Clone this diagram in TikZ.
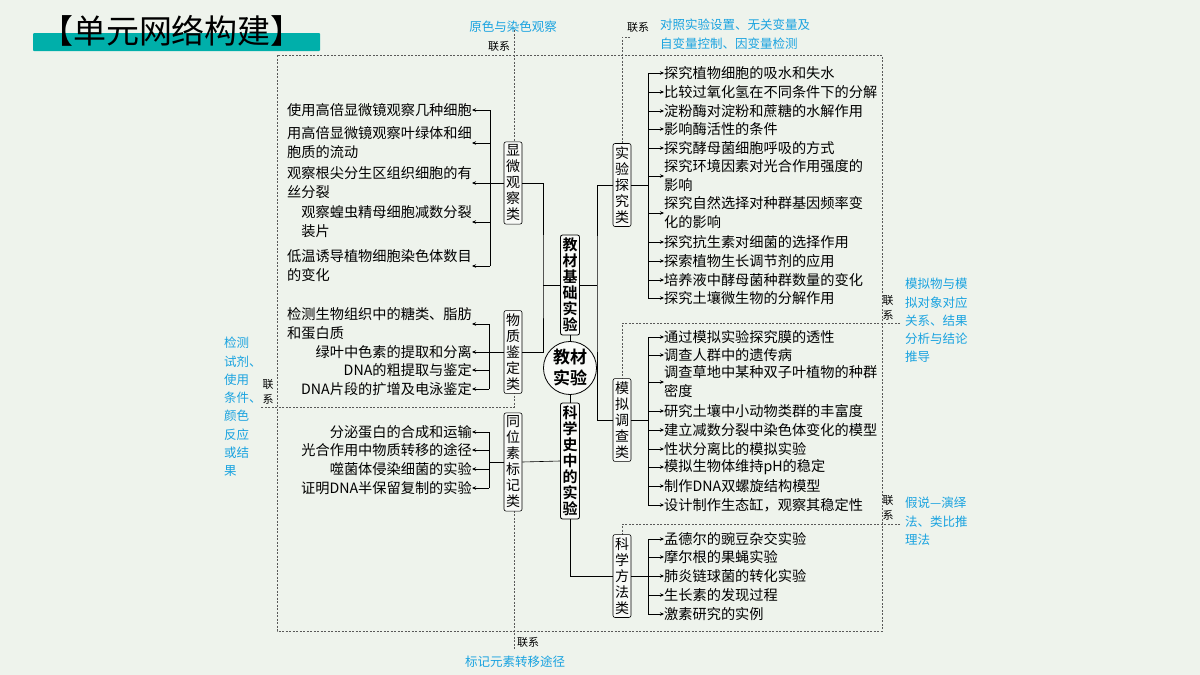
\documentclass[tikz,border=0pt]{standalone}
\usepackage{fontspec}
\setmainfont{Noto Sans CJK SC}[BoldFont={Noto Sans CJK SC Bold}]
\usetikzlibrary{arrows.meta}
\definecolor{bg}{HTML}{EEF3EC}
\definecolor{teal}{HTML}{00AFAA}
\definecolor{blu}{HTML}{1AA3E0}
\tikzset{
 leaf/.style={inner sep=0pt,font=\fontsize{14.2}{19}\selectfont,align=left},
 cat/.style={draw,rounded corners=2pt,fill=white!60!bg,inner xsep=2pt,inner ysep=3pt,align=center,font=\fontsize{14}{16}\selectfont,line width=0.6pt},
 mainbox/.style={cat,font=\bfseries\fontsize{15}{16}\selectfont,line width=0.8pt},
 arr/.style={-{Stealth[length=4pt,width=3.5pt]},line width=0.6pt},
 ln/.style={line width=0.6pt},
 dsh/.style={dash pattern=on 2pt off 1.5pt,line width=0.6pt,black!65},
 note/.style={text=blu,font=\fontsize{12.5}{18.3}\selectfont,inner sep=0pt,align=left},
 lx/.style={font=\fontsize{11}{15}\selectfont,inner sep=0pt,align=center},
}
\begin{document}
\begin{tikzpicture}[x=1pt,y=-1pt]
\path[fill=bg] (0,0) rectangle (1200,675);
% title
\fill[teal,rounded corners=1pt] (33,33) rectangle (320,51);
\node[inner sep=0pt,font=\fontsize{33}{33}\selectfont] (title) at (172,31) {【单元网络构建】};
% dashed frames
\draw[dsh] (277,55) rectangle (882,631);
\draw[dsh] (514,30) -- (514,143);
\draw[dsh] (630,37) -- (622,37) -- (622,145);
\draw[dsh] (900,323) -- (622,323) -- (622,380);
\draw[dsh] (900,524) -- (622,524) -- (622,537);
\draw[dsh] (514,392) -- (514,407) -- (260,407);
\draw[dsh] (514,507) -- (514,650);
% center
\node[mainbox] (jb) at (570,285) {教\\材\\基\\础\\实\\验};
\node[draw,circle,line width=0.8pt,fill=white!60!bg,inner sep=1pt,minimum size=46pt,align=center,font=\bfseries\fontsize{17}{21}\selectfont] (core) at (570,368) {教材\\实验};
\node[mainbox] (ks) at (570,461) {科\\学\\史\\中\\的\\实\\验};
\draw[ln] (jb.south) -- (core.north);
\draw[ln] (core.south) -- (ks.north);
% categories
\node[cat] (xw) at (513,183) {显\\微\\观\\察\\类};
\node[cat] (wz) at (513,352) {物\\质\\鉴\\定\\类};
\node[cat] (tw) at (513,462) {同\\位\\素\\标\\记\\类};
\node[cat] (sy) at (622,185) {实\\验\\探\\究\\类};
\node[cat] (mn) at (622,420) {模\\拟\\调\\查\\类};
\node[cat] (kf) at (622,576) {科\\学\\方\\法\\类};
\coordinate (jl) at (543,285);
\coordinate (jr) at (597,285);
\draw[ln] (jb.west) -- (jl);
\draw[ln] (xw.east) -| (jl) |- (wz.east);
\draw[ln] (jb.east) -- (jr);
\draw[ln] (sy.west) -| (jr) |- (mn.west);
\draw[ln] (ks.west) -- (tw.east);
\draw[ln] (ks.south) |- (kf.west);
% left leaves: xw
\foreach \n/\y/\t in {a/110/{使用高倍显微镜观察几种细胞},b/143/{用高倍显微镜观察叶绿体和细\\胞质的流动},c/183/{观察根尖分生区组织细胞的有\\丝分裂},d/222/{观察蝗虫精母细胞减数分裂\\装片},e/266/{低温诱导植物细胞染色体数目\\的变化}}{
 \node[leaf,anchor=east] (xw\n) at (472,\y) {\t};
 \coordinate (bxw\n) at (490,\y);
 \draw[arr] (bxw\n) -- (xw\n.east);
}
\draw[ln] (bxwa) -- (bxwe);
\draw[ln] (xw.west) -- (490,183);
% wz
\foreach \n/\y/\t in {a/324/{检测生物组织中的糖类、脂肪\\和蛋白质},b/352/{绿叶中色素的提取和分离},c/370/{DNA的粗提取与鉴定},d/389/{DNA片段的扩增及电泳鉴定}}{
 \node[leaf,anchor=east] (wz\n) at (472,\y) {\t};
 \coordinate (bwz\n) at (489,\y);
 \draw[arr] (bwz\n) -- (wz\n.east);
}
\draw[ln] (bwza) -- (bwzd);
\draw[ln] (wz.west) -- (bwzb);
% tw
\foreach \n/\y/\t in {a/432/{分泌蛋白的合成和运输},b/450/{光合作用中物质转移的途径},c/469/{噬菌体侵染细菌的实验},d/488/{证明DNA半保留复制的实验}}{
 \node[leaf,anchor=east] (tw\n) at (472,\y) {\t};
 \coordinate (btw\n) at (489,\y);
 \draw[arr] (btw\n) -- (tw\n.east);
}
\draw[ln] (btwa) -- (btwd);
\draw[ln] (tw.west) -- (489,462);
% right leaves: sy
\foreach \n/\y/\t in {a/73/{探究植物细胞的吸水和失水},b/92/{比较过氧化氢在不同条件下的分解},c/111/{淀粉酶对淀粉和蔗糖的水解作用},d/129/{影响酶活性的条件},e/148/{探究酵母菌细胞呼吸的方式},f/176/{探究环境因素对光合作用强度的\\影响},g/213/{探究自然选择对种群基因频率变\\化的影响},h/242/{探究抗生素对细菌的选择作用},i/261/{探索植物生长调节剂的应用},j/280/{培养液中酵母菌种群数量的变化},k/298/{探究土壤微生物的分解作用}}{
 \node[leaf,anchor=west] (sy\n) at (664,\y) {\t};
 \coordinate (bsy\n) at (648,\y);
 \draw[arr] (bsy\n) -- (sy\n.west);
}
\draw[ln] (bsya) -- (bsyk);
\draw[ln] (sy.east) -- (648,185);
% mn
\foreach \n/\y/\t in {a/337/{通过模拟实验探究膜的透性},b/355/{调查人群中的遗传病},c/382/{调查草地中某种双子叶植物的种群\\密度},d/411/{研究土壤中小动物类群的丰富度},e/430/{建立减数分裂中染色体变化的模型},f/449/{性状分离比的模拟实验},g/467/{模拟生物体维持pH的稳定},h/486/{制作DNA双螺旋结构模型},i/505/{设计制作生态缸，观察其稳定性}}{
 \node[leaf,anchor=west] (mn\n) at (664,\y) {\t};
 \coordinate (bmn\n) at (648,\y);
 \draw[arr] (bmn\n) -- (mn\n.west);
}
\draw[ln] (bmna) -- (bmni);
\draw[ln] (mn.east) -- (648,420);
% kf
\foreach \n/\y/\t in {a/539/{孟德尔的豌豆杂交实验},b/557/{摩尔根的果蝇实验},c/576/{肺炎链球菌的转化实验},d/595/{生长素的发现过程},e/614/{激素研究的实例}}{
 \node[leaf,anchor=west] (kf\n) at (664,\y) {\t};
 \coordinate (bkf\n) at (648,\y);
 \draw[arr] (bkf\n) -- (kf\n.west);
}
\draw[ln] (bkfa) -- (bkfe);
\draw[ln] (kf.east) -- (bkfc);
% notes
\node[note,anchor=center] (n1) at (513,27) {原色与染色观察};
\node[lx] (l1) at (499,46) {联系};
\node[lx] (l2) at (638,27) {联系};
\node[note,anchor=north west] (n2) at (660,19) {对照实验设置、无关变量及\\自变量控制、因变量检测};
\node[lx] (l3) at (888,308) {联\\系};
\node[note,anchor=north west] (n3) at (905,278) {模拟物与模\\拟对象对应\\关系、结果\\分析与结论\\推导};
\node[lx] (l4) at (888,508) {联\\系};
\node[note,anchor=north west] (n4) at (905,497) {假说—演绎\\法、类比推\\理法};
\node[lx] (l5) at (268,392) {联\\系};
\node[note,anchor=north west] (n5) at (224,337) {检测\\试剂、\\使用\\条件、\\颜色\\反应\\或结\\果};
\node[lx] (l6) at (528,642) {联系};
\node[note,anchor=center] (n6) at (515,662) {标记元素转移途径};
\end{tikzpicture}
\end{document}
